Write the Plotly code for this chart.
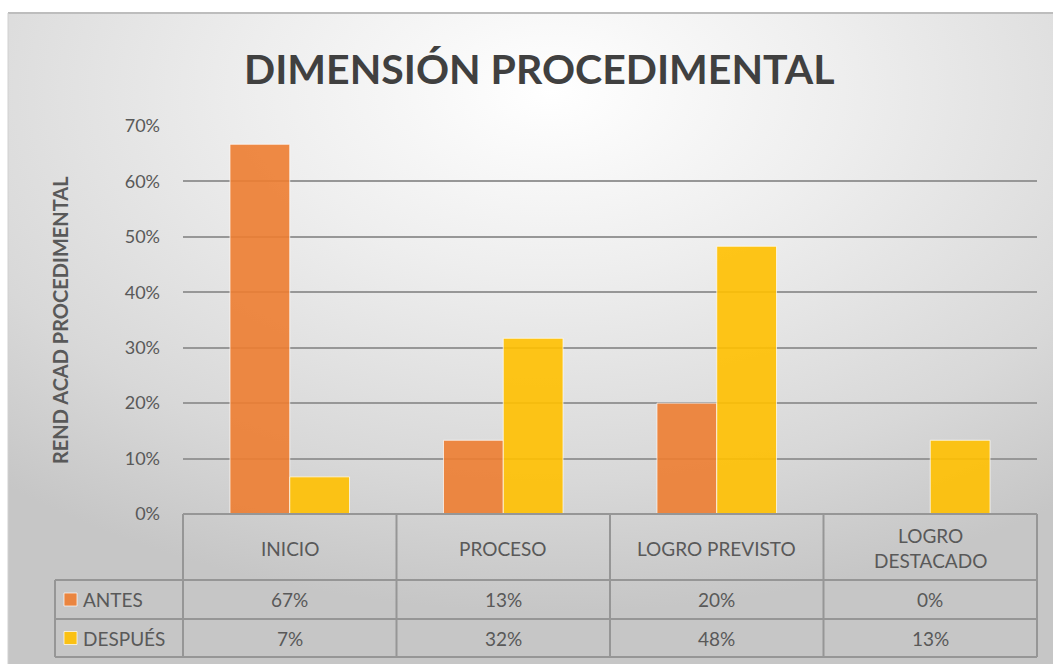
import base64
import plotly.graph_objects as go

# ---------------- data ----------------
categories = ["INICIO", "PROCESO", "LOGRO PREVISTO", "LOGRO<br>DESTACADO"]
series_names = ["ANTES", "DESPUÉS"]
antes = [0.667, 0.133, 0.200, 0.0]
despues = [0.067, 0.317, 0.483, 0.133]
y_ticks = [0, 0.1, 0.2, 0.3, 0.4, 0.5, 0.6, 0.7]
title_text = "DIMENSIÓN PROCEDIMENTAL"
y_title = "REND ACAD PROCEDIMENTAL"

# ---------------- style / layout geometry ----------------
W, H = 1053, 664
PL, PR, PT, PB = 183, 1037, 126, 514   # plot area in pixels
FONT = "Lato, 'Open Sans', sans-serif"
TXT = "#595959"
LINE = "#969696"
COL_ANTES = "rgba(237,125,49,0.9)"
COL_DESP = "rgba(255,192,0,0.9)"
FS = 19


def px(x):
    return (x - PL) / (PR - PL)


def py(y):
    return (PB - y) / (PB - PT)


fig = go.Figure()
fig.add_trace(go.Bar(x=list(range(len(categories))), y=antes, name=series_names[0],
                     marker=dict(color=COL_ANTES, line=dict(color="rgba(255,255,255,0.7)", width=1))))
fig.add_trace(go.Bar(x=list(range(len(categories))), y=despues, name=series_names[1],
                     marker=dict(color=COL_DESP, line=dict(color="rgba(255,255,255,0.7)", width=1))))

# background radial gradient panel
svg = '''<svg xmlns="http://www.w3.org/2000/svg" width="1045" height="651" viewBox="0 0 1045 651" preserveAspectRatio="none">
<defs><radialGradient id="g" cx="52%" cy="12%" r="80%">
<stop offset="0" stop-color="#ffffff"/><stop offset="0.35" stop-color="#eeeeee"/><stop offset="0.75" stop-color="#d8d8d8"/><stop offset="1" stop-color="#c6c6c6"/>
</radialGradient></defs><rect width="1045" height="651" fill="url(#g)"/></svg>'''
src = "data:image/svg+xml;base64," + base64.b64encode(svg.encode()).decode()
fig.add_layout_image(dict(source=src, xref="paper", yref="paper", x=px(8), y=py(13),
                          sizex=(W - 8) / (PR - PL), sizey=(H - 13) / (PB - PT),
                          xanchor="left", yanchor="top", sizing="stretch", layer="below"))

shapes = []
# panel top / left border
shapes.append(dict(type="line", xref="paper", yref="paper", x0=px(8), x1=px(W), y0=py(13), y1=py(13),
                   line=dict(color="#bdbdbd", width=2)))
shapes.append(dict(type="line", xref="paper", yref="paper", x0=px(8), x1=px(8), y0=py(13), y1=py(H),
                   line=dict(color="#d0d0d0", width=1)))

# table geometry
n = len(categories)
col_edges = [PL + i * (PR - PL) / n for i in range(n + 1)]
row_lines = [514, 580, 619, 657]
LBL_X = 55
for i, yy in enumerate(row_lines):
    x0 = PL if i == 0 else LBL_X
    shapes.append(dict(type="line", xref="paper", yref="paper", x0=px(x0), x1=px(PR), y0=py(yy), y1=py(yy),
                       line=dict(color=LINE, width=2)))
for xe in col_edges:
    shapes.append(dict(type="line", xref="paper", yref="paper", x0=px(xe), x1=px(xe), y0=py(514), y1=py(657),
                       line=dict(color=LINE, width=2)))
shapes.append(dict(type="line", xref="paper", yref="paper", x0=px(LBL_X), x1=px(LBL_X), y0=py(580), y1=py(657),
                   line=dict(color=LINE, width=2)))

# legend keys in table
row_centers = [599.5, 638]
key_cols = [COL_ANTES, COL_DESP]
for yc, c in zip(row_centers, key_cols):
    shapes.append(dict(type="rect", xref="paper", yref="paper", x0=px(64), x1=px(77), y0=py(yc - 6.5), y1=py(yc + 6.5),
                       fillcolor=c, line=dict(color="rgba(255,255,255,0.7)", width=1)))

annotations = []
annotations.append(dict(text=f"<b>{title_text}</b>", xref="paper", yref="paper", x=px(539), y=py(68),
                        showarrow=False, xanchor="center", yanchor="middle",
                        font=dict(family=FONT, size=41, color="#404040")))
annotations.append(dict(text=f"<b>{y_title}</b>", xref="paper", yref="paper", x=px(60), y=py(320),
                        showarrow=False, textangle=-90, xanchor="center", yanchor="middle",
                        font=dict(family=FONT, size=20, color=TXT)))
for i, cat in enumerate(categories):
    xc = px((col_edges[i] + col_edges[i + 1]) / 2)
    annotations.append(dict(text=cat, xref="paper", yref="paper", x=xc, y=py(548), showarrow=False,
                            xanchor="center", yanchor="middle",
                            font=dict(family=FONT, size=FS, color=TXT)))
    for yc, vals in zip(row_centers, [antes, despues]):
        annotations.append(dict(text=f"{round(vals[i] * 100)}%", xref="paper", yref="paper", x=xc, y=py(yc),
                                showarrow=False, xanchor="center", yanchor="middle",
                                font=dict(family=FONT, size=FS, color=TXT)))
for yc, name in zip(row_centers, series_names):
    annotations.append(dict(text=name, xref="paper", yref="paper", x=px(81), y=py(yc), showarrow=False,
                            xanchor="left", yanchor="middle",
                            font=dict(family=FONT, size=FS, color=TXT)))

fig.update_layout(
    width=W, height=H,
    margin=dict(l=PL, r=W - PR, t=PT, b=H - PB, pad=0),
    paper_bgcolor="white", plot_bgcolor="rgba(0,0,0,0)",
    showlegend=False, barmode="group", bargap=0.44, bargroupgap=0.0,
    shapes=shapes, annotations=annotations,
    font=dict(family=FONT, color=TXT),
)
fig.update_xaxes(range=[-0.5, n - 0.5], showticklabels=False, showgrid=False, zeroline=False,
                 showline=False, ticks="")
fig.update_yaxes(range=[0, 0.7], tickvals=y_ticks, tickformat=".0%", showgrid=True,
                 gridcolor="#979797", gridwidth=1.5, zeroline=False, showline=False, ticks="",
                 ticklabelstandoff=22, tickfont=dict(family=FONT, size=18, color=TXT))

fig.write_html("out.html")
